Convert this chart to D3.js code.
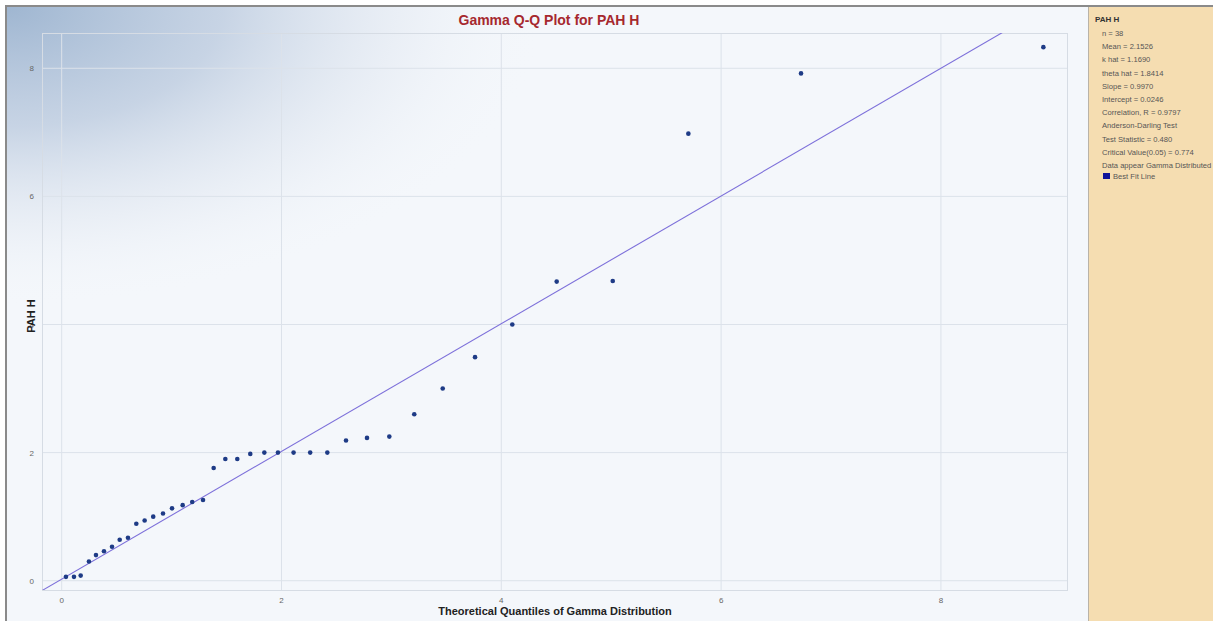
<!DOCTYPE html>
<html>
<head>
<meta charset="utf-8">
<script src="https://cdn.jsdelivr.net/npm/d3@7"></script>
<style>
  body { margin: 0; background: #fff; }
  svg { display: block; font-family: "Liberation Sans", Arial, sans-serif; }
</style>
</head>
<body>
<svg id="chart" width="1213" height="621"></svg>
<script>
// theoretical gamma quantiles (x) and sorted PAH H values (y)
var theoretical = [0.039, 0.112, 0.173, 0.248, 0.312, 0.385, 0.458, 0.528, 0.603, 0.679,
  0.755, 0.833, 0.922, 1.004, 1.101, 1.188, 1.286, 1.383, 1.489, 1.598,
  1.716, 1.844, 1.968, 2.110, 2.261, 2.417, 2.587, 2.778, 2.981, 3.208,
  3.467, 3.761, 4.100, 4.504, 5.014, 5.702, 6.727, 8.932];
var observed = [0.06, 0.06, 0.08, 0.30, 0.40, 0.46, 0.53, 0.64, 0.67, 0.89,
  0.94, 1.00, 1.05, 1.13, 1.18, 1.23, 1.26, 1.76, 1.90, 1.90,
  1.98, 2.00, 2.00, 2.00, 2.00, 2.00, 2.19, 2.23, 2.25, 2.60,
  3.00, 3.49, 4.00, 4.67, 4.68, 6.98, 7.92, 8.33];
var xTicks = [0, 2, 4, 6, 8];
var yTicks = [0, 2, 4, 6, 8];
var slope = 0.997, intercept = 0.0246;
var statsLines = ["n = 38", "Mean = 2.1526", "k hat = 1.1690", "theta hat = 1.8414",
  "Slope = 0.9970", "Intercept = 0.0246", "Correlation, R = 0.9797",
  "Anderson-Darling Test", "Test Statistic = 0.480", "Critical Value(0.05) = 0.774",
  "Data appear Gamma Distributed"];

var svg = d3.select("#chart");
var plot = {left: 42, top: 33, right: 1067, bottom: 590};

var defs = svg.append("defs");
var grad = defs.append("radialGradient").attr("id", "corner")
  .attr("cx", 0).attr("cy", 0).attr("r", 1).attr("fx", 0).attr("fy", 0);
grad.append("stop").attr("offset", "0%").attr("stop-color", "#9fb6d1").attr("stop-opacity", 1);
grad.append("stop").attr("offset", "40%").attr("stop-color", "#bccbdf").attr("stop-opacity", 0.8);
grad.append("stop").attr("offset", "75%").attr("stop-color", "#dfe6f0").attr("stop-opacity", 0.4);
grad.append("stop").attr("offset", "100%").attr("stop-color", "#f4f7fb").attr("stop-opacity", 0);
defs.append("clipPath").attr("id", "plotclip").append("rect")
  .attr("x", plot.left).attr("y", plot.top)
  .attr("width", plot.right - plot.left).attr("height", plot.bottom - plot.top);

// chart background
svg.append("rect").attr("x", 7).attr("y", 7).attr("width", 1081).attr("height", 614).attr("fill", "#f4f7fb");
svg.append("rect").attr("x", 7).attr("y", 7).attr("width", 540).attr("height", 300).attr("fill", "url(#corner)");

// stats panel
svg.append("rect").attr("x", 1089).attr("y", 7).attr("width", 124).attr("height", 614).attr("fill", "#f5ddb1");
svg.append("line").attr("x1", 1088.5).attr("x2", 1088.5).attr("y1", 7).attr("y2", 621).attr("stroke", "#b9b3a8");

// outer frame
svg.append("line").attr("x1", 5).attr("x2", 1213).attr("y1", 6).attr("y2", 6).attr("stroke", "#8a8a8a").attr("stroke-width", 2);
svg.append("line").attr("x1", 6).attr("x2", 6).attr("y1", 5).attr("y2", 621).attr("stroke", "#8a8a8a").attr("stroke-width", 2);

var x = d3.scaleLinear().domain([-0.179, 9.147]).range([plot.left, plot.right]);
var y = d3.scaleLinear().domain([-0.145, 8.551]).range([plot.bottom, plot.top]);

// grid
svg.append("g").selectAll("line").data(xTicks).enter().append("line")
  .attr("x1", function(d) { return x(d); }).attr("x2", function(d) { return x(d); })
  .attr("y1", plot.top).attr("y2", plot.bottom)
  .attr("stroke", "#dce2ea").attr("stroke-width", 1);
svg.append("g").selectAll("line").data(yTicks).enter().append("line")
  .attr("x1", plot.left).attr("x2", plot.right)
  .attr("y1", function(d) { return y(d); }).attr("y2", function(d) { return y(d); })
  .attr("stroke", "#dce2ea").attr("stroke-width", 1);
svg.append("rect").attr("x", plot.left + 0.5).attr("y", plot.top + 0.5)
  .attr("width", plot.right - plot.left).attr("height", plot.bottom - plot.top)
  .attr("fill", "none").attr("stroke", "#d6dce4");

// tick labels
svg.append("g").selectAll("text").data(xTicks).enter().append("text")
  .attr("x", function(d) { return x(d); }).attr("y", 603)
  .attr("text-anchor", "middle").attr("font-size", 8).attr("fill", "#666")
  .text(function(d) { return d; });
svg.append("g").selectAll("text").data(yTicks).enter().append("text")
  .attr("x", 34).attr("y", function(d) { return y(d) + 3; })
  .attr("text-anchor", "end").attr("font-size", 8).attr("fill", "#666")
  .text(function(d) { return d; });

// best fit line
var xd = x.domain();
svg.append("line").attr("clip-path", "url(#plotclip)")
  .attr("x1", x(xd[0])).attr("y1", y(slope * xd[0] + intercept))
  .attr("x2", x(xd[1])).attr("y2", y(slope * xd[1] + intercept))
  .attr("stroke", "#7d70da").attr("stroke-width", 1.1);

// points
svg.append("g").selectAll("circle").data(theoretical).enter().append("circle")
  .attr("cx", function(d) { return x(d); })
  .attr("cy", function(d, i) { return y(observed[i]); })
  .attr("r", 2.3).attr("fill", "#1e3b86");

// titles
svg.append("text").attr("x", 549).attr("y", 25).attr("text-anchor", "middle")
  .attr("font-size", 14).attr("font-weight", "bold").attr("fill", "#a6282e")
  .text("Gamma Q-Q Plot for PAH H");
svg.append("text").attr("x", 555).attr("y", 615).attr("text-anchor", "middle")
  .attr("font-size", 11).attr("font-weight", "bold").attr("fill", "#222")
  .text("Theoretical Quantiles of Gamma Distribution");
svg.append("text").attr("transform", "translate(35,316) rotate(-90)").attr("text-anchor", "middle")
  .attr("font-size", 11).attr("font-weight", "bold").attr("fill", "#222")
  .text("PAH H");

// stats legend
svg.append("text").attr("x", 1095).attr("y", 22).attr("font-size", 8).attr("font-weight", "bold")
  .attr("fill", "#333").text("PAH H");
svg.append("g").selectAll("text").data(statsLines).enter().append("text")
  .attr("x", 1102).attr("y", function(d, i) { return 36 + i * 13.2; })
  .attr("font-size", 7.6).attr("fill", "#555")
  .text(function(d) { return d; });
svg.append("rect").attr("x", 1103).attr("y", 173).attr("width", 7).attr("height", 6).attr("fill", "#10139a");
svg.append("text").attr("x", 1113).attr("y", 179).attr("font-size", 7.6).attr("fill", "#555").text("Best Fit Line");
</script>
</body>
</html>
